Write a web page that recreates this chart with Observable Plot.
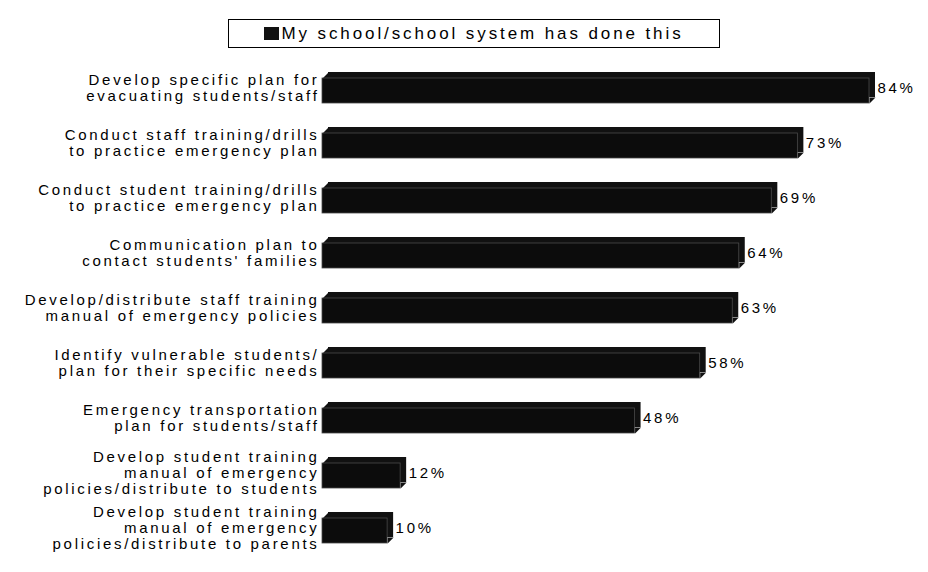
<!DOCTYPE html>
<html>
<head>
<meta charset="utf-8">
<script src="https://cdn.jsdelivr.net/npm/d3@7"></script>
<script src="https://cdn.jsdelivr.net/npm/@observablehq/plot@0.6"></script>
<style>
  html, body { margin: 0; padding: 0; background: #fff; }
  #wrap { position: relative; width: 928px; height: 572px; overflow: hidden; font-family: "Liberation Sans", Arial, sans-serif; }
  #legend { position: absolute; left: 228px; top: 19px; width: 492px; height: 29px; box-sizing: border-box;
            border: 1.5px solid #000; display: flex; align-items: center; justify-content: center;
            font-size: 17px; letter-spacing: 2.9px; color: #000; white-space: nowrap; }
  #legend .sw { display: inline-block; width: 15px; height: 13px; background: #111; margin-right: 2px; }
  #chart { position: absolute; left: 0; top: 56px; }
  #chart svg text { letter-spacing: 2.7px; }
</style>
</head>
<body>
<div id="wrap">
  <div id="legend"><span class="sw"></span><span id="legendText"></span></div>
  <div id="chart"></div>
</div>
<script>
const categories = [
  "Develop specific plan for\nevacuating students/staff",
  "Conduct staff training/drills\nto practice emergency plan",
  "Conduct student training/drills\nto practice emergency plan",
  "Communication plan to\ncontact students' families",
  "Develop/distribute staff training\nmanual of emergency policies",
  "Identify vulnerable students/\nplan for their specific needs",
  "Emergency transportation\nplan for students/staff",
  "Develop student training\nmanual of emergency\npolicies/distribute to students",
  "Develop student training\nmanual of emergency\npolicies/distribute to parents"
];
const values = [84, 73, 69, 64, 63, 58, 48, 12, 10];
const seriesName = "My school/school system has done this";

document.getElementById("legendText").textContent = seriesName;

const data = categories.map((c, i) => ({cat: c, v: values[i]}));

const H = 516, MT = 1, MB = 14, PAD = 0.443;
const step = (H - MT - MB) / categories.length;
const bw = step * (1 - PAD);
const D = 6; // 3D depth in px

const notchTL = {draw(ctx) { ctx.moveTo(0, 0); ctx.lineTo(D, -D); ctx.lineTo(D, 0); ctx.closePath(); }};
const notchBR = {draw(ctx) { ctx.moveTo(0, 0); ctx.lineTo(D, -D); ctx.lineTo(0, -D); ctx.closePath(); }};

const chart = Plot.plot({
  width: 928,
  height: H,
  marginLeft: 322,
  marginRight: 59,
  marginTop: MT,
  marginBottom: MB,
  style: {fontFamily: "'Liberation Sans', Arial, sans-serif", background: "#fff", overflow: "visible"},
  x: {domain: [0, 84], axis: null},
  y: {domain: categories, axis: null, paddingInner: PAD, paddingOuter: PAD / 2, align: 0.5},
  marks: [
    // back/top+side faces
    Plot.barX(data, {x: "v", y: "cat", fill: "#111", insetTop: D, dx: D, dy: -D}),
    Plot.dot(data, {x: () => 0, y: "cat", r: 1, symbol: notchTL, fill: "#111", stroke: "none", dy: -bw / 2 + D}),
    Plot.dot(data, {x: "v", y: "cat", r: 1, symbol: notchBR, fill: "#111", stroke: "none", dy: bw / 2}),
    // front face
    Plot.barX(data, {x: "v", y: "cat", fill: "#0c0c0c", stroke: "#4a4a4a", strokeWidth: 0.8, insetTop: D}),
    // value labels
    Plot.text(data, {x: "v", y: "cat", text: d => d.v + "%", dx: D + 2, dy: 0, textAnchor: "start", fontSize: 15, fill: "#000"}),
    // category labels
    Plot.text(data, {x: () => 0, y: "cat", text: "cat", dx: -3, textAnchor: "end", fontSize: 15, lineHeight: 1.07, fill: "#000"})
  ]
});
document.getElementById("chart").appendChild(chart);
</script>
</body>
</html>
